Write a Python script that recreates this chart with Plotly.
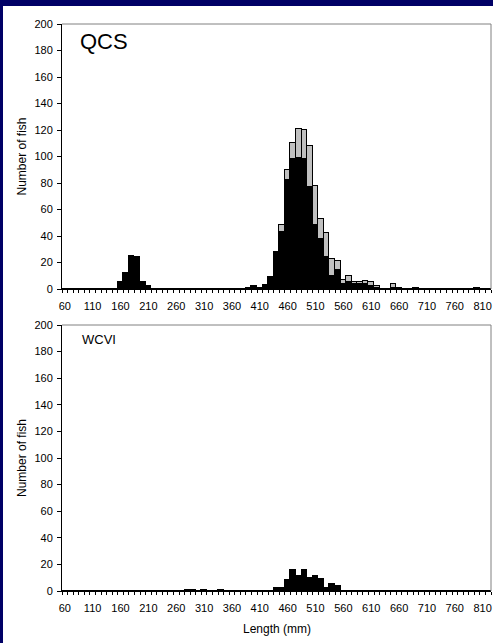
import plotly.graph_objects as go

categories = list(range(60, 830, 10))  # bin centres, mm

qcs_black = [0, 0, 0, 0, 0, 0, 0, 0, 0, 0,          # 60-150
             5, 12, 25, 24, 5, 2,                    # 160-210
             0, 0, 0, 0, 0, 0, 0, 0, 0, 0, 0, 0, 0, 0, 0, 0, 0,  # 220-380
             1, 2, 1, 3, 9, 27, 43, 82, 98, 99, 98, 77, 48, 38, 24, 10, 14,  # 390-550
             4, 5, 4, 4, 4, 2, 1, 0, 0, 1, 1, 0, 0, 1,  # 560-690
             0, 0, 0, 0, 0, 0, 0, 0, 0, 0,          # 700-790
             1, 0, 0]                                # 800-820

qcs_grey = [0] * 38 + [                               # 60-430
            1, 5, 8, 12, 22, 22, 31, 30, 15, 18, 13, 7,   # 440-550
            3, 5, 1, 1, 2, 3, 1, 0, 0, 3] + [0] * 17      # 560-650, 660-820

wcvi_black = [0] * 22 + [                             # 60-270
              1, 1, 0, 1, 0, 0, 1,                   # 280-340
              0, 0, 0, 0, 0, 0, 0, 0, 0,             # 350-430
              2, 2, 8, 16, 11, 16, 10, 11, 9, 2, 5, 4] + [0] * 27  # 440-550, 560-820

x_labels = list(range(60, 811, 50))
y_ticks = list(range(0, 201, 20))
boundaries = [c - 5 for c in categories] + [categories[-1] + 5]

FONT = "Liberation Sans, Arial, sans-serif"
NAVY = "#000066"

fig = go.Figure()
fig.add_trace(go.Bar(x=categories, y=qcs_black, width=10, marker=dict(color="black", line=dict(color="black", width=1)),
                     xaxis="x", yaxis="y", showlegend=False))
fig.add_trace(go.Bar(x=categories, y=qcs_grey, width=10, marker=dict(color="#C0C0C0", line=dict(color="black", width=1)),
                     xaxis="x", yaxis="y", showlegend=False))
fig.add_trace(go.Bar(x=categories, y=wcvi_black, width=10, marker=dict(color="black", line=dict(color="black", width=1)),
                     xaxis="x2", yaxis="y2", showlegend=False))

W, H = 493, 643
L, R, T, B = 62, 2, 24, 52
pw, ph = W - L - R, H - T - B

def py(p):
    return (H - B - p) / ph

def px(p):
    return (p - L) / pw

xax = dict(range=[55, 825], tickmode="array", tickvals=x_labels, ticktext=[str(v) for v in x_labels],
           ticks="outside", ticklen=7, tickcolor="rgba(0,0,0,0)",
           showline=True, linecolor="black", linewidth=1, showgrid=False, zeroline=False,
           tickfont=dict(family=FONT, size=11, color="black"),
           minor=dict(tickmode="array", tickvals=boundaries, ticks="outside", ticklen=3, tickcolor="black", tickwidth=1, showgrid=False))
yax = dict(range=[0, 200], tickmode="array", tickvals=y_ticks, ticks="outside", ticklen=4, tickcolor="black",
           ticklabelstandoff=2,
           showline=True, linecolor="black", linewidth=1, showgrid=False, zeroline=False,
           tickfont=dict(family=FONT, size=11, color="black"))

fig.update_layout(
    width=W, height=H, margin=dict(l=L, r=R, t=T, b=B),
    paper_bgcolor="white", plot_bgcolor="white",
    barmode="stack", bargap=0,
    xaxis=dict(xax, domain=[0, 1], anchor="y"),
    yaxis=dict(yax, domain=[py(289), 1], anchor="x"),
    xaxis2=dict(xax, domain=[0, 1], anchor="y2"),
    yaxis2=dict(yax, domain=[0, py(325)], anchor="x2"),
)

shapes = []
for xr, yr in (("x domain", "y domain"), ("x2 domain", "y2 domain")):
    shapes.append(dict(type="line", xref=xr, yref=yr, x0=0, x1=1, y0=1, y1=1, line=dict(color="#808080", width=1)))
    shapes.append(dict(type="line", xref=xr, yref=yr, x0=1, x1=1, y0=0, y1=1, line=dict(color="#808080", width=1)))
shapes.append(dict(type="rect", xref="paper", yref="paper", x0=px(-2), x1=px(W + 2), y0=py(6), y1=py(-2),
                   fillcolor=NAVY, line=dict(width=0), layer="above"))
shapes.append(dict(type="rect", xref="paper", yref="paper", x0=px(-2), x1=px(3), y0=py(H + 2), y1=py(-2),
                   fillcolor=NAVY, line=dict(width=0), layer="above"))
fig.update_layout(shapes=shapes)

ann = [
    dict(text="QCS", x=px(78), y=py(41), xanchor="left", yanchor="middle", font=dict(family=FONT, size=22, color="black")),
    dict(text="WCVI", x=px(80), y=py(339), xanchor="left", yanchor="middle", font=dict(family=FONT, size=13, color="black")),
    dict(text="Number of fish", x=px(22), y=py(156.5), textangle=-90, xanchor="center", yanchor="middle",
         font=dict(family=FONT, size=12, color="black")),
    dict(text="Number of fish", x=px(22), y=py(458), textangle=-90, xanchor="center", yanchor="middle",
         font=dict(family=FONT, size=12, color="black")),
    dict(text="Length (mm)", x=px(277), y=py(629), xanchor="center", yanchor="middle",
         font=dict(family=FONT, size=12, color="black")),
]
for a in ann:
    a.update(xref="paper", yref="paper", showarrow=False)
fig.update_layout(annotations=ann)

fig.write_html("out.html", config={"displayModeBar": False},
               post_script="document.body.style.margin='0px';document.body.style.overflow='hidden';")
